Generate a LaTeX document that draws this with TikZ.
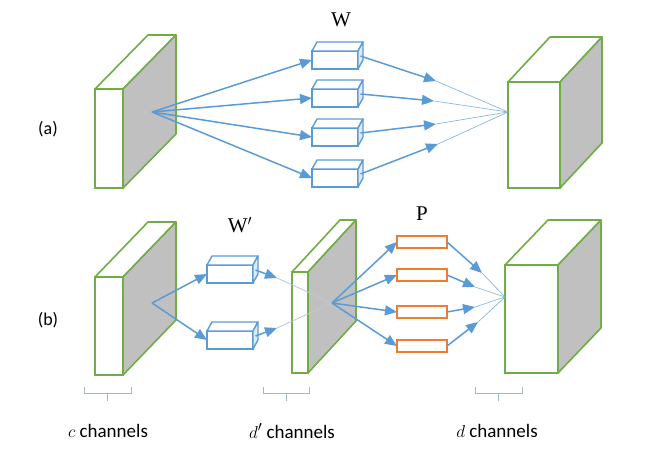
\documentclass[tikz,border=0pt]{standalone}
\usepackage{fontspec}
\setmainfont{Carlito}
\newfontfamily\serifw{Liberation Serif}
\usetikzlibrary{arrows.meta,calc}
\definecolor{grn}{RGB}{112,173,71}
\definecolor{sidegray}{RGB}{192,192,192}
\definecolor{blu}{RGB}{91,155,213}
\definecolor{blulight}{RGB}{221,235,247}
\definecolor{org}{RGB}{237,125,49}
\definecolor{brc}{RGB}{160,184,204}
\definecolor{faint}{RGB}{190,200,212}
\newcommand\mycuboid[9]{%
  \node[draw=#8, fill=white, minimum width=#4pt, minimum height=#5pt, inner sep=0pt, outer sep=0pt, anchor=north west] (#1) at (#2,#3) {};
  \draw[#8, fill=white, line join=round] (#1.north west) -- ++(#6,#7) -- ++(#4,0) -- (#1.north east) -- cycle;
  \draw[#8, fill=#9, line join=round] (#1.north east) -- ++(#6,#7) -- ++(0,#5) -- (#1.south east) -- cycle;
}
\tikzset{
  arr/.style={blu, line width=1.5pt, -{Triangle[length=12pt,width=10pt]}},
  thinline/.style={blu!80, line width=0.6pt},
  faintline/.style={faint, line width=0.8pt},
  brace/.style={brc, line width=1pt},
  lbl/.style={font=\fontsize{18}{21}\selectfont},
  chan/.style={font=\fontsize{19}{22}\selectfont},
  wlbl/.style={font=\fontsize{21}{24}\selectfont\serifw},
}
\begin{document}
\begin{tikzpicture}[x=1pt,y=-1pt]
\useasboundingbox (0,0) rectangle (666,470);

% ---------- (a) ----------
\begin{scope}[line width=1.6pt]
\mycuboid{La}{95}{89}{28}{99}{53}{-54}{grn}{sidegray}
\mycuboid{Ra}{508}{82}{52}{106}{42}{-45}{grn}{sidegray}
\end{scope}
\begin{scope}[line width=1.4pt]
\mycuboid{Wa1}{312}{51}{46}{18}{5}{-9}{blu}{blulight}
\mycuboid{Wa2}{312}{89}{46}{18}{5}{-9}{blu}{blulight}
\mycuboid{Wa3}{312}{128}{46}{18}{5}{-9}{blu}{blulight}
\mycuboid{Wa4}{312}{169}{46}{18}{5}{-9}{blu}{blulight}
\end{scope}
\node[wlbl] (Wlab) at (341,20) {W};
\node[lbl] (alab) at (48,129) {(a)};

\coordinate (Fa) at (152,112);
\coordinate (Ca) at (508,112);
\coordinate (Ta1) at (436,81);
\coordinate (Ta2) at (434,101);
\coordinate (Ta3) at (436,124);
\coordinate (Ta4) at (438,144);
\foreach \i in {1,...,4}{
  \draw[arr] (Fa) -- (Wa\i.west);
  \draw[thinline] (Ta\i) -- (Ca);
  \draw[arr] ($(Wa\i.east)+(2.5,-4)$) -- (Ta\i);
}

% ---------- (b) ----------
\begin{scope}[line width=1.6pt]
\mycuboid{Lb}{95}{277}{28}{98}{53}{-55}{grn}{sidegray}
\mycuboid{Mb}{292}{272}{16}{101}{48}{-52}{grn}{sidegray}
\mycuboid{Rb}{505}{265}{53}{108}{43}{-45}{grn}{sidegray}
\end{scope}
\begin{scope}[line width=1.4pt]
\mycuboid{Wb1}{207}{265}{46}{18}{5}{-9}{blu}{blulight}
\mycuboid{Wb2}{207}{331}{46}{18}{5}{-9}{blu}{blulight}
\end{scope}
\begin{scope}[line width=1.6pt]
\foreach \i/\yy in {1/236,2/269,3/306,4/340}{
  \node[draw=org, fill=white, minimum width=50pt, minimum height=12pt, inner sep=0pt, outer sep=0pt, anchor=north west] (P\i) at (397,\yy) {};
}
\end{scope}
\node[wlbl] (Wplab) at (240,225) {W$'$};
\node[wlbl] (Plab) at (422,214) {P};
\node[lbl] (blab) at (48,320) {(b)};

\coordinate (Fb1) at (152,303);
\coordinate (Fb2) at (332,303);
\coordinate (Cb) at (505,297);
\coordinate (Tb1) at (277,278);
\coordinate (Tb2) at (277,328);
\coordinate (Tp1) at (482,273);
\coordinate (Tp2) at (475,287);
\coordinate (Tp3) at (475,307);
\coordinate (Tp4) at (478,322);

\draw[arr] (Fb1) -- (Wb1.west);
\draw[arr] (Fb1) -- (Wb2.west);
\draw[faintline] (Tb1) -- (Fb2);
\draw[faintline] (Tb2) -- (Fb2);
\draw[arr] ($(Wb1.east)+(2.5,-4)$) -- (Tb1);
\draw[arr] ($(Wb2.east)+(2.5,-4)$) -- (Tb2);
\foreach \i in {1,...,4}{
  \draw[arr] (Fb2) -- (P\i.west);
  \draw[thinline] (Tp\i) -- (Cb);
  \draw[arr] (P\i.east) -- (Tp\i);
}

% ---------- braces and labels ----------
\coordinate (B1l) at (84,387);
\coordinate (B1r) at (131,387);
\coordinate (B2l) at (263,387);
\coordinate (B2r) at (309,387);
\coordinate (B3l) at (475,387);
\coordinate (B3r) at (522,387);
\foreach \l/\r in {B1l/B1r,B2l/B2r,B3l/B3r}{
  \draw[brace] (\l) -- ++(0,6) -| (\r);
  \draw[brace] ($(\l)!0.5!(\r)+(0,6)$) -- ++(0,8);
}
\node[chan] (c1) at (108,431) {$c$ channels};
\node[chan] (c2) at (292,431) {$d'$ channels};
\node[chan] (c3) at (497,431) {$d$ channels};
\end{tikzpicture}
\end{document}
